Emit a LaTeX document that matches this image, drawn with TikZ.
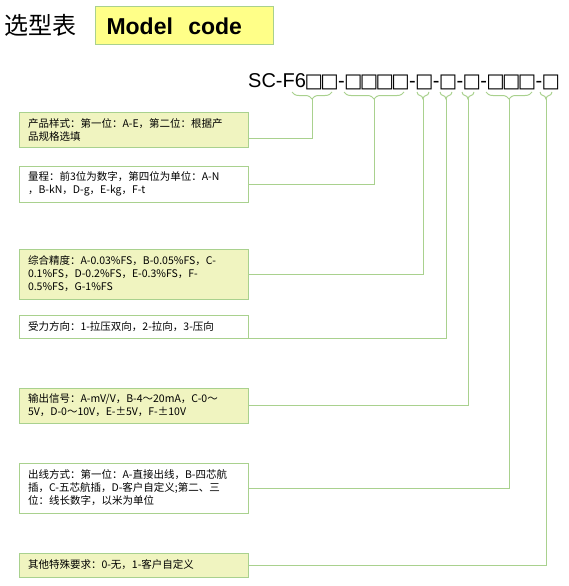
\documentclass[tikz,border=0pt]{standalone}
\usepackage{fontspec}
\usetikzlibrary{decorations.pathreplacing}
\newfontfamily\cjk{Noto Sans CJK SC}
\newfontfamily\arial{Liberation Sans}
\newfontfamily\symf{DejaVu Sans}
\definecolor{lgreen}{RGB}{169,209,142}
\definecolor{lfill}{RGB}{240,244,192}
\definecolor{titlefill}{RGB}{255,255,136}
\newcommand\sq{\makebox[15.75pt]{\symf\fontsize{19.5}{19.5}\selectfont □}}
\newcommand\hy{\makebox[8pt]{-}}

\begin{document}
\begin{tikzpicture}[x=1pt,y=-1pt,
    spec/.style={draw=lgreen,line width=1pt,fill=white,anchor=west,
      minimum width=229pt,text width=212pt,inner xsep=8.5pt,inner ysep=1pt,
      align=left,font=\cjk\fontsize{10.5}{13}\selectfont},
    specfill/.style={spec,fill=lfill},
    link/.style={draw=lgreen,line width=1pt},
    grp/.style={draw=lgreen,line width=1pt,decorate,decoration={brace,mirror,amplitude=7pt}}]
  \useasboundingbox (0,0) rectangle (568,586);
  \node[inner sep=0,font=\cjk\fontsize{24}{28}\selectfont] (title) at (41,25) {选型表};
  \node[draw=lgreen,line width=1pt,fill=titlefill,anchor=west,minimum height=38pt,
    text width=156pt,inner xsep=11pt,align=left,font=\arial\bfseries\fontsize{23}{26}\selectfont]
    (model) at (95,26) {Model\ \ code};
  \node[anchor=base west,inner sep=0,font=\arial\fontsize{20}{24}\selectfont] (code) at (248,87)
    {SC-F6\sq\sq\hy\sq\sq\sq\sq\hy\sq\hy\sq\hy\sq\hy\sq\sq\sq\hy\sq};

  \foreach \n/\l/\r/\c in {1/292/332/312,2/344/404/374,3/417/429/423,4/440/452/446,
      5/462/474/468,6/486/532/509,7/540/552/546}{
    \coordinate (g\n l) at (\l,92);
    \coordinate (g\n r) at (\r,92);
    \coordinate (g\n) at (\c,99);
    \draw[grp] (g\n l) -- (g\n r);
  }

  \node[specfill,minimum height=35pt] (P1) at (19,129.5)
    {产品样式：第一位：A-E，第二位：根据产\\品规格选填};
  \node[spec,minimum height=36pt] (P2) at (19,184)
    {量程：前3位为数字，第四位为单位：A-N\\，B-kN，D-g，E-kg，F-t};
  \node[specfill,minimum height=50pt] (P3) at (19,274)
    {综合精度：A-0.03\%FS，B-0.05\%FS，C-\\0.1\%FS，D-0.2\%FS，E-0.3\%FS，F-\\0.5\%FS，G-1\%FS};
  \node[spec,minimum height=23pt] (P4) at (19,326.5)
    {受力方向：1-拉压双向，2-拉向，3-压向};
  \node[specfill,minimum height=35pt] (P5) at (19,405.5)
    {输出信号：A-mV/V，B-4～20mA，C-0～\\5V，D-0～10V，E-±5V，F-±10V};
  \node[spec,minimum height=50pt] (P6) at (19,488)
    {出线方式：第一位：A-直接出线，B-四芯航\\插，C-五芯航插，D-客户自定义;第二、三\\位：线长数字，以米为单位};
  \node[specfill,minimum height=24pt] (P7) at (19,565)
    {其他特殊要求：0-无，1-客户自定义};

  \draw[link] ([yshift=-8.5pt]P1.east) -| (g1);
  \draw[link] (P2.east) -| (g2);
  \draw[link] (P3.east) -| (g3);
  \draw[link] (P4.south east) -| (g4);
  \draw[link] (P5.east) -| (g5);
  \draw[link] (P6.east) -| (g6);
  \draw[link] (P7.east) -| (g7);
\end{tikzpicture}
\end{document}
